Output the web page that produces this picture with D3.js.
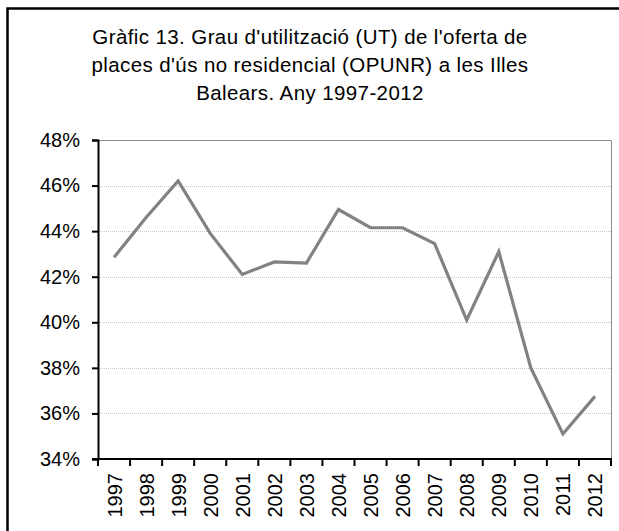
<!DOCTYPE html>
<html>
<head>
<meta charset="utf-8">
<script src="https://cdn.jsdelivr.net/npm/d3@7"></script>
<style>
  body { margin: 0; background: #fff; }
  text { font-family: "Liberation Sans", Arial, sans-serif; fill: #000; }
</style>
</head>
<body>
<div id="chart"></div>
<script>
const years = ["1997","1998","1999","2000","2001","2002","2003","2004",
               "2005","2006","2007","2008","2009","2010","2011","2012"];
const utilization = [42.85, 44.6, 46.2, 43.9, 42.1, 42.65, 42.6, 44.95,
                     44.15, 44.15, 43.45, 40.1, 43.1, 38.0, 35.1, 36.75];
const yTicks = [34, 36, 38, 40, 42, 44, 46, 48];
const titleLines = [
  "Gràfic 13. Grau d'utilització (UT) de l'oferta de",
  "places d'ús no residencial (OPUNR) a les Illes",
  "Balears. Any 1997-2012"
];

const width = 619;
const height = 531;
const margin = { top: 140, right: 8, bottom: 72, left: 98 };

const svg = d3.select("#chart")
  .append("svg")
  .attr("width", width)
  .attr("height", height);

// outer frame (cut off at right and bottom)
svg.append("rect")
  .attr("x", 7.5)
  .attr("y", 8.5)
  .attr("width", 640)
  .attr("height", 560)
  .attr("fill", "none")
  .attr("stroke", "#000")
  .attr("stroke-width", 2.5);

svg.append("g")
  .selectAll("text")
  .data(titleLines)
  .enter()
  .append("text")
  .attr("x", 310)
  .attr("y", (d, i) => 44 + i * 28)
  .attr("text-anchor", "middle")
  .style("font-size", "20.5px")
  .style("letter-spacing", "0.4px")
  .text(d => d);

const x = d3.scaleBand()
  .domain(years)
  .range([margin.left, width - margin.right]);

const y = d3.scaleLinear()
  .domain([34, 48])
  .range([height - margin.bottom, margin.top]);

// gridlines
svg.append("g")
  .selectAll("line")
  .data(yTicks.slice(1, -1))
  .enter()
  .append("line")
  .attr("x1", margin.left)
  .attr("x2", width - margin.right)
  .attr("y1", d => Math.round(y(d)) + 0.5)
  .attr("y2", d => Math.round(y(d)) + 0.5)
  .attr("stroke", "#c4c4c4")
  .attr("stroke-dasharray", "1,1");

// plot border top / right
svg.append("path")
  .attr("d", `M${margin.left},${Math.round(y(48)) + 0.5}H${width - margin.right + 0.5}V${y(34)}`)
  .attr("fill", "none")
  .attr("stroke", "#8c8c8c");

// y axis
const yAxis = svg.append("g")
  .attr("transform", `translate(${margin.left},0)`)
  .call(d3.axisLeft(y).tickValues(yTicks).tickSize(6).tickPadding(12)
    .tickFormat(d => d + "%"));
yAxis.selectAll("text").style("font-size", "20px");
yAxis.selectAll("line, path").attr("stroke", "#000").attr("stroke-width", 2);

// x axis with ticks between categories
const xAxis = svg.append("g")
  .attr("transform", `translate(0,${y(34)})`);
xAxis.append("line")
  .attr("x1", margin.left - 6)
  .attr("x2", width - margin.right + 1)
  .attr("stroke", "#000")
  .attr("stroke-width", 2);
xAxis.selectAll("line.tick")
  .data(years.concat(["end"]))
  .enter()
  .append("line")
  .attr("class", "tick")
  .attr("x1", (d, i) => margin.left + i * x.bandwidth())
  .attr("x2", (d, i) => margin.left + i * x.bandwidth())
  .attr("y1", 0)
  .attr("y2", 7)
  .attr("stroke", "#000")
  .attr("stroke-width", 2);
xAxis.selectAll("text")
  .data(years)
  .enter()
  .append("text")
  .attr("transform", d => `translate(${x(d) + x.bandwidth() / 2 + 7.5},14) rotate(-90)`)
  .attr("text-anchor", "end")
  .style("font-size", "20px")
  .text(d => d);

// series line
const line = d3.line()
  .x((d, i) => x(years[i]) + x.bandwidth() / 2)
  .y(d => y(d));

svg.append("path")
  .datum(utilization)
  .attr("d", line)
  .attr("fill", "none")
  .attr("stroke", "#828282")
  .attr("stroke-width", 3.2)
  .attr("stroke-linejoin", "miter");
</script>
</body>
</html>
